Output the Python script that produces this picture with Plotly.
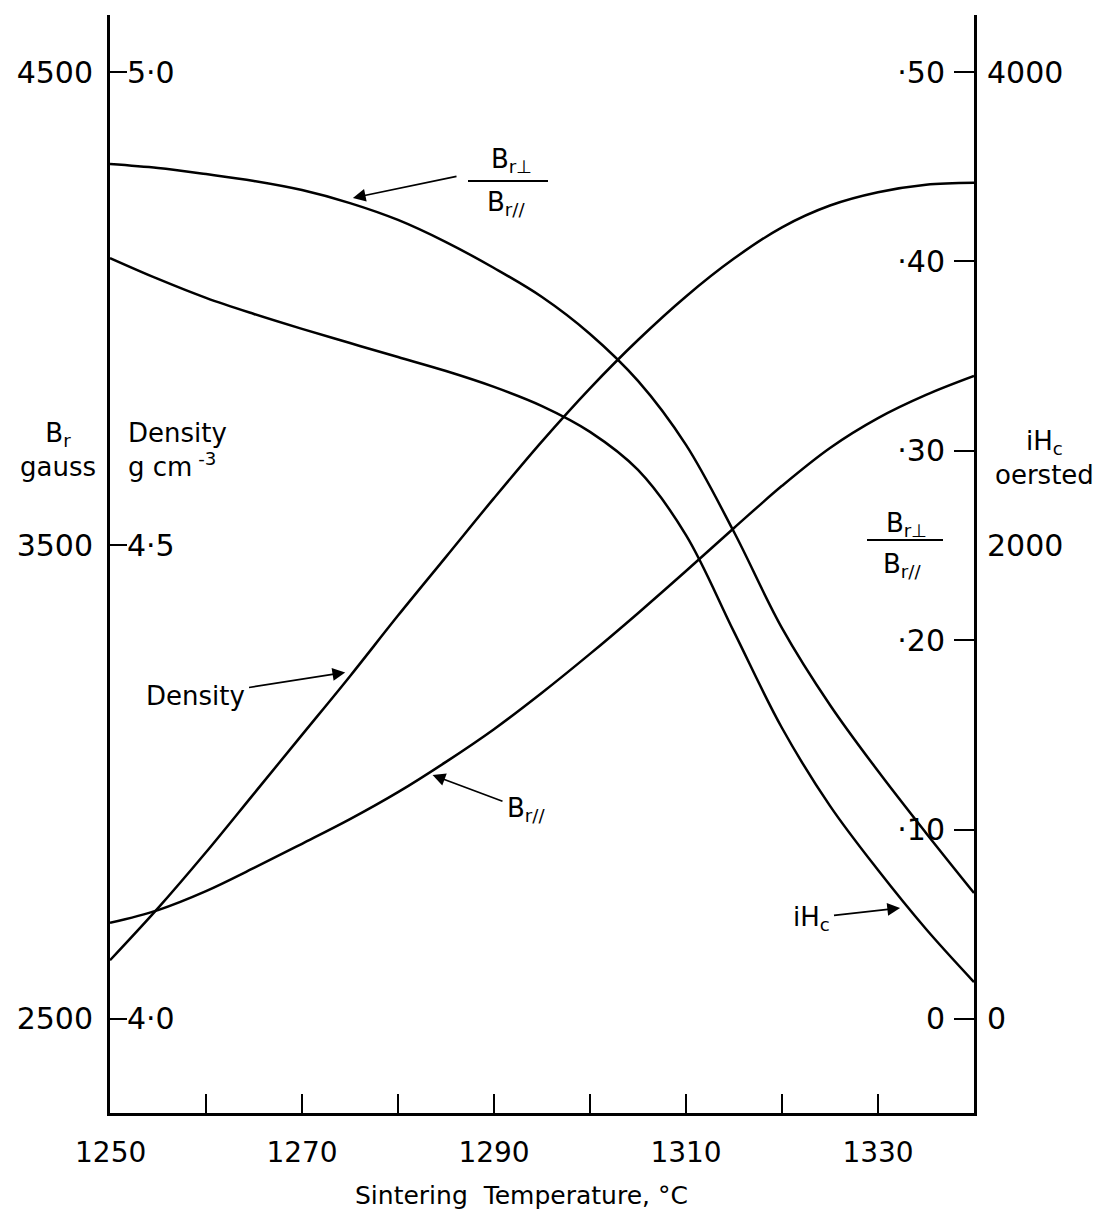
import plotly.graph_objects as go

# ---------------- data ----------------
temperature = [1250, 1255, 1260, 1265, 1270, 1275, 1280, 1285, 1290, 1295,
               1300, 1305, 1310, 1315, 1320, 1325, 1330, 1335, 1340]
ratio_perp_par = [0.4514, 0.4493, 0.4461, 0.4425, 0.4377, 0.4308, 0.4219, 0.4102, 0.3965, 0.3812,
                  0.3617, 0.3369, 0.3031, 0.2571, 0.2064, 0.1658, 0.1309, 0.0982, 0.0665]
ihc_oersted = [3214, 3126, 3046, 2978, 2915, 2855, 2796, 2737, 2670, 2589,
               2480, 2319, 2044, 1635, 1229, 900, 629, 380, 156]
density_gcm3 = [4.062, 4.117, 4.176, 4.238, 4.300, 4.362, 4.426, 4.488, 4.550, 4.610,
                4.666, 4.717, 4.763, 4.803, 4.836, 4.859, 4.873, 4.881, 4.883]
br_par_gauss = [2703, 2730, 2770, 2819, 2870, 2922, 2979, 3043, 3112, 3189,
                3271, 3357, 3446, 3537, 3626, 3706, 3769, 3818, 3858]

x_label_vals = [1270, 1290, 1310, 1330]
x_first_label = "1250"
gauss_ticks = [2500, 3500, 4500]
density_ticks = [4.0, 4.5, 5.0]
density_ticktext = ["4·0", "4·5", "5·0"]
ratio_ticks = [0.0, 0.1, 0.2, 0.3, 0.4, 0.5]
ratio_ticktext = ["0", "·10", "·20", "·30", "·40", "·50"]
ihc_ticks = [0, 2000, 4000]

# ---------------- figure ----------------
W, H = 1105, 1223
ML, MR, MT, MB = 110, 131, 15, 110
PW, PH = W - ML - MR, H - MT - MB

FONT = "DejaVu Sans"
line_style = dict(color="black", width=2.5, shape="spline", smoothing=1.0)

fig = go.Figure()
fig.add_trace(go.Scatter(x=temperature, y=br_par_gauss, mode="lines", line=line_style,
                         yaxis="y", name="Br//"))
fig.add_trace(go.Scatter(x=temperature, y=density_gcm3, mode="lines", line=line_style,
                         yaxis="y2", name="Density"))
fig.add_trace(go.Scatter(x=temperature, y=ratio_perp_par, mode="lines", line=line_style,
                         yaxis="y3", name="Br⊥/Br//"))
fig.add_trace(go.Scatter(x=temperature, y=ihc_oersted, mode="lines", line=line_style,
                         yaxis="y4", name="iHc"))

# fraction of axis height: 0 -> lowest labelled value, 1 -> highest labelled value
lo, hi = -0.0993, 1.0602


def rng(a, b):
    return [a + (b - a) * lo, a + (b - a) * hi]


def px(xp):
    return (xp - ML) / PW


def py(yp):
    return (H - MB - yp) / PH


tickfont = dict(family=FONT, size=30, color="black")
xtickfont = dict(family=FONT, size=28, color="black")

fig.update_layout(
    width=W, height=H,
    margin=dict(l=ML, r=MR, t=MT, b=MB),
    paper_bgcolor="white", plot_bgcolor="white",
    showlegend=False,
    font=dict(family=FONT, color="black"),
    xaxis=dict(range=[1250, 1340], showgrid=False, zeroline=False,
               showline=True, linecolor="black", linewidth=3,
               ticks="inside", ticklen=19, tickwidth=1.8, tickcolor="black",
               tickvals=x_label_vals, tickfont=xtickfont, ticklabelstandoff=12,
               minor=dict(ticks="inside", ticklen=19, tickwidth=1.8, tickcolor="black",
                          tick0=1250, dtick=10, showgrid=False)),
    yaxis=dict(range=rng(2500, 4500), side="left", showgrid=False, zeroline=False,
               showline=True, linecolor="black", linewidth=3,
               ticks="", tickvals=gauss_ticks, tickfont=tickfont,
               ticklabelstandoff=8),
    yaxis2=dict(range=rng(4.0, 5.0), overlaying="y", side="left", anchor="x",
                showgrid=False, zeroline=False, showline=False,
                ticks="inside", ticklen=17, tickwidth=1.8, tickcolor="black",
                tickvals=density_ticks, ticktext=density_ticktext,
                ticklabelposition="inside", tickfont=tickfont,
                ticklabelstandoff=3),
    yaxis3=dict(range=rng(0.0, 0.5), overlaying="y", side="right", anchor="x",
                showgrid=False, zeroline=False,
                showline=True, linecolor="black", linewidth=3,
                ticks="inside", ticklen=20, tickwidth=1.8, tickcolor="black",
                tickvals=ratio_ticks, ticktext=ratio_ticktext,
                ticklabelposition="inside", tickfont=tickfont,
                ticklabelstandoff=12),
    yaxis4=dict(range=rng(0, 4000), overlaying="y", side="right", anchor="x",
                showgrid=False, zeroline=False, showline=False,
                ticks="", tickvals=ihc_ticks, tickfont=tickfont,
                ticklabelstandoff=12),
)

annotations = []


def text(xp, yp, s, xanchor="center", align="center", size=26):
    annotations.append(dict(xref="paper", yref="paper", x=px(xp), y=py(yp), text=s,
                            showarrow=False, xanchor=xanchor, yanchor="middle",
                            align=align, font=dict(family=FONT, size=size, color="black")))


def tip_px(xv, yv, yref):
    x_tip = ML + (xv - 1250) / 90 * PW
    lay = fig.layout[{"y": "yaxis", "y2": "yaxis2", "y3": "yaxis3", "y4": "yaxis4"}[yref]]
    r0, r1 = lay.range
    y_tip = H - MB - (yv - r0) / (r1 - r0) * PH
    return x_tip, y_tip


def label_arrow(s, xv, yv, yref, tx, ty, size=26):
    """Text centred at pixel (tx, ty) with an arrow to data point (xv, yv)."""
    x_tip, y_tip = tip_px(xv, yv, yref)
    annotations.append(dict(xref="x", yref=yref, x=xv, y=yv, text=s, showarrow=True,
                            ax=tx - x_tip, ay=ty - y_tip, arrowhead=2, arrowsize=1.5,
                            arrowwidth=1.7, arrowcolor="black", borderpad=4,
                            font=dict(family=FONT, size=size, color="black")))


def plain_arrow(xv, yv, yref, tx, ty):
    """Arrow from pixel (tx, ty) to data point (xv, yv)."""
    x_tip, y_tip = tip_px(xv, yv, yref)
    annotations.append(dict(xref="x", yref=yref, x=xv, y=yv, text="", showarrow=True,
                            ax=tx - x_tip, ay=ty - y_tip, arrowhead=2, arrowsize=1.5,
                            arrowwidth=1.7, arrowcolor="black"))


# first x tick label (kept as a text so it is not hidden at the corner)
annotations.append(dict(xref="x", yref="paper", x=1250, y=py(1152),
                        text=x_first_label, showarrow=False, xanchor="center",
                        yanchor="middle", font=xtickfont))

# axis titles
text(98, 450, "B<sub>r</sub><br>gauss", xanchor="right", align="center")
text(126, 450, "Density<br>g cm<sup> -3</sup>", xanchor="left", align="left")
text(1044, 458, "iH<sub>c</sub><br>oersted", xanchor="center", align="center")
text(906, 524, "B<sub>r⊥</sub>")
text(902, 566, "B<sub>r//</sub>")
text(521, 1195, "Sintering  Temperature, °C", size=25)

# ratio label at the top with its arrow
text(511, 160, "B<sub>r⊥</sub>")
text(506, 204, "B<sub>r//</sub>")
plain_arrow(1275.3, 0.4335, "y3", 458, 176)

# labelled arrows pointing at the curves
label_arrow("Density", 1274.5, 4.366, "y2", 195, 696)
label_arrow("B<sub>r//</sub>", 1283.6, 3015, "y", 526, 810)
label_arrow("iH<sub>c</sub>", 1332.3, 469, "y4", 811, 918)

fig.update_layout(annotations=annotations)

# fraction bars
for x0, x1, yy in [(867, 943, 540), (468, 548, 181)]:
    fig.add_shape(type="line", xref="paper", yref="paper",
                  x0=px(x0), x1=px(x1), y0=py(yy), y1=py(yy),
                  line=dict(color="black", width=2.2))

fig.write_html("out.html")
